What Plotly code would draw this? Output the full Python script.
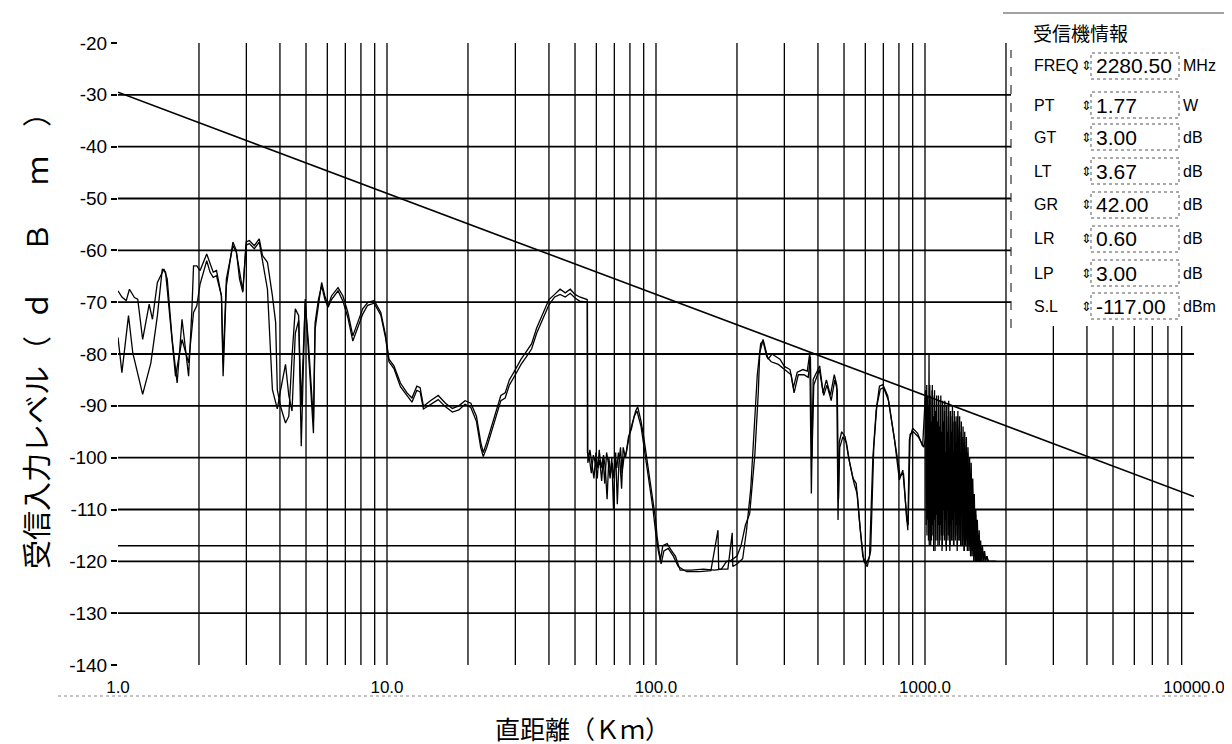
import plotly.graph_objects as go

# ---------------- data ----------------
# measured receive level, receiver A (km, dBm)
trace_a = [
    (1.0, -67.8), (1.034, -69.0), (1.073, -69.7), (1.103, -67.5), (1.151, -69.1), (1.184, -69.4),
    (1.235, -77.2), (1.306, -70.4), (1.343, -73.3), (1.401, -66.2), (1.482, -63.6), (1.524, -65.5),
    (1.590, -77.2), (1.659, -85.6), (1.730, -73.3), (1.830, -84.3), (1.883, -71.3), (1.909, -63.0),
    (1.963, -63.0), (2.019, -63.9), (2.137, -60.7), (2.198, -62.3), (2.259, -64.2), (2.324, -63.9),
    (2.424, -68.8), (2.459, -84.3), (2.529, -66.8), (2.674, -58.4), (2.752, -60.0), (2.830, -65.5),
    (2.911, -68.1), (2.994, -58.4), (3.079, -58.1), (3.212, -59.1), (3.350, -57.8), (3.445, -61.0),
    (3.594, -62.3), (3.750, -68.8), (3.855, -73.9), (3.910, -86.9), (4.020, -90.1), (4.195, -93.3),
    (4.315, -92.0), (4.436, -80.4), (4.562, -71.3), (4.695, -72.6), (4.800, -97.8), (4.965, -69.4),
    (5.105, -79.8), (5.328, -95.3), (5.403, -75.2), (5.559, -70.1), (5.715, -66.2), (5.876, -68.8),
    (6.043, -70.7), (6.218, -68.8), (6.577, -67.2), (6.857, -68.8), (7.155, -72.0), (7.464, -76.5),
    (7.786, -73.9), (8.121, -71.3), (8.472, -70.1), (8.957, -69.7), (9.484, -72.0), (9.886, -76.5),
    (10.17, -81.0), (10.61, -82.3), (11.22, -85.6), (11.87, -87.5), (12.38, -88.5), (12.91, -86.2),
    (13.28, -86.5), (13.66, -90.1),
    (14.5, -89.0), (15.5, -88.0), (16.5, -89.5), (17.5, -90.5), (18.5, -90.0), (19.5, -89.0),
    (20.5, -89.5), (21.5, -92.0), (22.3, -97.0), (22.8, -99.0), (23.5, -97.0), (24.5, -94.0),
    (25.5, -91.0), (26.5, -88.0), (27.5, -87.5), (28.5, -85.0), (30.0, -83.0), (31.5, -81.0),
    (33.0, -79.5), (34.5, -78.0), (36.0, -75.0), (38.0, -72.0), (40.0, -69.5), (42.0, -68.5),
    (44.0, -67.5), (46.0, -68.2), (48.0, -67.5), (50.0, -68.5), (52.0, -69.0), (55.5, -69.5),
    (55.6, -99.0), (56.5, -100.0), (57.5, -103.0), (58.5, -99.5), (59.5, -101.0), (60.5, -104.0),
    (61.5, -98.5), (62.5, -102.0), (63.5, -100.0), (64.5, -105.0), (65.5, -99.0), (66.5, -101.0),
    (67.5, -104.0), (68.5, -100.0), (69.5, -110.0), (70.5, -100.0), (71.5, -102.0), (72.5, -99.0),
    (73.5, -101.0), (74.5, -106.0), (75.5, -98.0), (77.0, -100.0), (78.5, -97.0), (80.0, -95.0),
    (82.0, -93.0), (84.0, -91.0), (85.5, -90.2), (88.0, -93.0), (90.0, -96.0), (92.5, -100.4),
    (95.0, -104.0), (97.0, -108.0), (99.7, -112.0), (101.0, -115.3), (103.8, -119.8), (106.0, -117.0),
    (110.0, -116.6), (114.0, -117.9), (118.0, -119.0), (123.0, -121.7), (135.0, -121.7), (150.0, -121.5),
    (165.0, -121.7), (175.0, -121.5), (183.0, -120.0), (190.0, -119.8), (200.0, -119.0), (207.0, -117.0),
    (215.0, -113.0), (223.0, -110.8), (233.0, -99.5), (240.0, -87.5), (243.0, -79.8), (250.0, -77.2),
    (261.0, -81.0), (270.0, -80.0), (289.0, -81.0), (300.0, -82.4), (315.0, -83.0), (324.0, -86.5),
    (335.0, -83.5), (352.0, -83.0), (365.0, -83.3), (373.0, -79.8), (378.0, -106.9), (384.0, -84.9),
    (406.0, -82.3), (418.0, -87.5), (430.0, -85.0), (445.0, -88.0), (460.0, -84.0), (470.0, -86.0),
    (475.0, -112.0), (480.0, -97.0), (490.0, -95.0), (505.0, -96.0), (520.0, -100.0), (540.0, -104.0),
    (555.0, -105.0), (570.0, -112.0), (587.0, -119.0), (605.0, -120.5), (622.0, -119.0), (640.0, -100.0),
    (658.0, -91.0), (677.0, -86.2), (697.0, -85.9), (727.0, -88.1), (770.0, -96.5), (803.0, -104.3),
    (827.0, -102.4), (851.0, -110.1), (863.0, -114.0), (875.0, -96.5), (900.0, -94.3), (939.0, -95.3),
    (980.0, -97.8),
    (1005, -87), (1010, -113), (1015, -86), (1020, -109), (1025, -90), (1030, -116), (1035, -80),
    (1040, -111), (1045, -88), (1050, -117), (1055, -93), (1060, -106), (1065, -86), (1070, -115),
    (1075, -95), (1080, -112), (1085, -87), (1090, -118), (1095, -91), (1100, -108), (1105, -88),
    (1110, -116), (1115, -97), (1120, -113), (1125, -89), (1130, -117), (1135, -94), (1140, -105),
    (1145, -88), (1150, -115), (1155, -99), (1160, -117), (1165, -90), (1170, -110), (1175, -93),
    (1180, -116), (1185, -89), (1190, -112), (1195, -101), (1200, -118), (1205, -90), (1210, -107),
    (1215, -96), (1220, -115), (1225, -89), (1230, -113), (1235, -98), (1240, -117), (1245, -91),
    (1250, -109), (1255, -95), (1260, -116), (1265, -90), (1270, -112), (1275, -102), (1280, -117),
    (1285, -91), (1290, -110), (1295, -97), (1300, -115), (1305, -92), (1310, -113), (1315, -99),
    (1320, -117), (1325, -91), (1330, -108), (1335, -96), (1340, -116), (1345, -92), (1350, -112),
    (1355, -103), (1360, -117), (1365, -93), (1370, -110), (1375, -98), (1380, -116), (1385, -94),
    (1390, -113), (1395, -101), (1400, -118), (1405, -95), (1410, -111), (1415, -99), (1420, -116),
    (1425, -96), (1430, -114), (1435, -104), (1440, -118), (1445, -98), (1450, -112), (1455, -102),
    (1460, -117), (1465, -100), (1470, -115), (1475, -106), (1480, -119), (1485, -101), (1490, -114),
    (1495, -108), (1500, -118), (1505, -104), (1510, -116), (1515, -110), (1520, -119), (1525, -107),
    (1530, -117), (1535, -112), (1540, -120), (1545, -110), (1550, -118), (1555, -114), (1560, -120),
    (1565, -112), (1570, -119), (1575, -116), (1580, -120), (1590, -114), (1600, -120), (1610, -116),
    (1620, -120), (1635, -117), (1650, -120), (1665, -118), (1680, -120), (1700, -119), (1720, -120),
    (1750, -120), (1800, -120), (1840, -120),
]

# measured receive level, receiver B (km, dBm)
trace_b = [
    (1.0, -76.8), (1.034, -83.6), (1.094, -72.6), (1.135, -79.8), (1.235, -87.8), (1.325, -81.7),
    (1.401, -72.6), (1.461, -63.6), (1.503, -64.2), (1.567, -73.9), (1.636, -84.3), (1.730, -77.2),
    (1.830, -81.7), (1.909, -72.0), (1.963, -70.7), (2.019, -66.5), (2.137, -62.0), (2.198, -64.2),
    (2.259, -65.2), (2.324, -64.9), (2.424, -68.8), (2.459, -81.7), (2.529, -65.5), (2.674, -59.1),
    (2.752, -60.3), (2.911, -67.8), (2.994, -59.0), (3.079, -58.7), (3.212, -59.7), (3.350, -58.4),
    (3.445, -62.0), (3.594, -67.5), (3.750, -86.9), (3.910, -90.6), (4.020, -87.0), (4.195, -82.0),
    (4.315, -88.0), (4.436, -91.0), (4.562, -76.0), (4.695, -73.5), (4.800, -90.0), (4.965, -70.0),
    (5.105, -78.0), (5.328, -93.0), (5.403, -74.0), (5.559, -69.5), (5.715, -66.8), (5.876, -69.5),
    (6.043, -71.0), (6.218, -69.5), (6.577, -67.8), (6.857, -69.8), (7.155, -73.0), (7.464, -77.5),
    (7.786, -74.9), (8.121, -72.3), (8.472, -70.6), (8.957, -70.2), (9.484, -72.5), (9.886, -77.0),
    (10.17, -81.5), (10.61, -82.8), (11.22, -86.3), (11.87, -88.0), (12.38, -89.3), (12.91, -87.0),
    (13.28, -87.3), (13.66, -90.6),
    (14.5, -89.8), (15.5, -88.8), (16.5, -90.2), (17.5, -91.2), (18.5, -90.8), (19.5, -89.7),
    (20.5, -90.3), (21.5, -93.0), (22.3, -98.0), (22.8, -99.8), (23.5, -98.0), (24.5, -95.0),
    (25.5, -92.0), (26.5, -89.0), (27.5, -88.5), (28.5, -86.0), (30.0, -84.0), (31.5, -82.0),
    (33.0, -80.5), (34.5, -79.0), (36.0, -76.0), (38.0, -73.0), (40.0, -70.5), (42.0, -69.0),
    (44.0, -68.5), (46.0, -69.0), (48.0, -68.3), (50.0, -69.2), (52.0, -69.8), (55.6, -70.0),
    (55.8, -101.0), (56.8, -98.5), (57.8, -101.5), (58.8, -104.0), (59.8, -99.0), (60.8, -102.0),
    (61.8, -100.5), (62.8, -104.5), (63.8, -99.5), (64.8, -102.0), (65.8, -108.0), (66.8, -100.0),
    (67.8, -103.0), (68.8, -101.0), (69.8, -104.0), (70.8, -99.0), (71.8, -109.0), (72.8, -101.0),
    (73.8, -98.0), (74.8, -103.0), (76.0, -100.0), (77.5, -99.0), (79.0, -96.0), (81.0, -94.5),
    (83.0, -92.0), (85.0, -91.0), (88.0, -94.0), (90.0, -97.5), (92.5, -101.0), (95.0, -106.0),
    (97.5, -110.0), (100.0, -115.0), (102.0, -118.0), (104.5, -120.5), (107.0, -118.0), (111.0, -117.5),
    (116.0, -119.0), (121.0, -121.0), (130.0, -122.0), (145.0, -122.0), (160.0, -121.8), (170.0, -114.0),
    (171.0, -121.5), (185.0, -121.5), (192.0, -114.5), (193.0, -121.0), (200.0, -120.5), (210.0, -119.5),
    (217.0, -114.0), (225.0, -106.0), (232.0, -95.0), (238.0, -84.0), (245.0, -78.0), (250.0, -77.5),
    (258.0, -80.5), (268.0, -81.5), (285.0, -82.0), (300.0, -83.0), (318.0, -84.0), (326.0, -87.5),
    (338.0, -84.0), (355.0, -84.0), (368.0, -84.5), (375.0, -80.5), (380.0, -100.0), (386.0, -86.0),
    (405.0, -83.0), (420.0, -88.0), (432.0, -86.0), (448.0, -89.0), (462.0, -85.0), (472.0, -87.0),
    (477.0, -108.0), (482.0, -98.0), (495.0, -96.0), (510.0, -97.0), (525.0, -101.0), (545.0, -105.0),
    (560.0, -107.0), (575.0, -114.0), (592.0, -120.0), (610.0, -121.0), (628.0, -118.0), (645.0, -98.0),
    (662.0, -90.0), (682.0, -86.8), (702.0, -86.5), (732.0, -89.0), (775.0, -97.5), (808.0, -103.5),
    (832.0, -103.0), (855.0, -112.0), (866.0, -113.0), (880.0, -95.5), (905.0, -95.0), (945.0, -96.0),
    (990.0, -98.0),
    (1007, -96), (1012, -87), (1017, -115), (1022, -88), (1027, -112), (1032, -91), (1037, -117),
    (1042, -86), (1047, -109), (1052, -94), (1057, -116), (1062, -87), (1067, -113), (1072, -92),
    (1077, -118), (1082, -88), (1087, -106), (1092, -96), (1097, -116), (1102, -89), (1107, -111),
    (1112, -93), (1117, -117), (1122, -88), (1127, -109), (1132, -98), (1137, -116), (1142, -90),
    (1147, -113), (1152, -95), (1157, -118), (1162, -89), (1167, -107), (1172, -97), (1177, -115),
    (1182, -91), (1187, -112), (1192, -99), (1197, -117), (1202, -90), (1207, -110), (1212, -95),
    (1217, -116), (1222, -92), (1227, -108), (1232, -100), (1237, -118), (1242, -91), (1247, -113),
    (1252, -97), (1257, -116), (1262, -92), (1267, -111), (1272, -99), (1277, -117), (1282, -93),
    (1287, -109), (1292, -101), (1297, -116), (1302, -93), (1307, -112), (1312, -97), (1317, -118),
    (1322, -92), (1327, -110), (1332, -100), (1337, -116), (1342, -94), (1347, -113), (1352, -99),
    (1357, -117), (1362, -95), (1367, -111), (1372, -103), (1377, -117), (1382, -96), (1387, -112),
    (1392, -100), (1397, -118), (1402, -97), (1407, -113), (1412, -102), (1417, -117), (1422, -98),
    (1427, -112), (1432, -105), (1437, -118), (1442, -99), (1447, -114), (1452, -104), (1457, -118),
    (1462, -101), (1467, -115), (1472, -107), (1477, -119), (1482, -103), (1487, -116), (1492, -109),
    (1497, -119), (1502, -106), (1507, -117), (1512, -111), (1517, -120), (1522, -109), (1527, -118),
    (1532, -113), (1537, -120), (1542, -111), (1547, -119), (1552, -115), (1557, -120), (1562, -113),
    (1567, -119), (1572, -116), (1577, -120), (1585, -115), (1595, -120), (1605, -117), (1615, -120),
    (1630, -118), (1645, -120), (1660, -118), (1675, -120), (1695, -119), (1715, -120), (1745, -120),
    (1790, -120), (1830, -120),
]

# free-space calculated level (line)
theory_dist = [1.0, 10000.0]
theory_level = [-29.5, -107.5]

# receiver sensitivity (S.L)
sensitivity_level = -117.0

# axis ticks
y_tick_vals = [-20, -30, -40, -50, -60, -70, -80, -90, -100, -110, -120, -130, -140]
y_tick_text = ["-20", "-30", "-40", "-50", "-60", "-70", "-80", "-90", "-100", "-110", "-120", "-130", "-140"]
y_grid_vals = [-30, -40, -50, -60, -70, -80, -90, -100, -110, -120, -130]
x_tick_vals = [1, 10, 100, 1000, 10000]
x_tick_text = ["1.0", "10.0", "100.0", "1000.0", "10000.0"]
x_grid_vals = [2, 3, 4, 5, 6, 7, 8, 9, 10, 20, 30, 40, 50, 60, 70, 80, 90, 100,
               200, 300, 400, 500, 600, 700, 800, 900, 1000,
               2000, 3000, 4000, 5000, 6000, 7000, 8000, 9000]

x_title = "直距離（Ｋｍ）"
y_title_main = "受信入力レベル"
y_title_unit = ["（", "ｄ", "Ｂ", "ｍ", "）"]

# receiver information panel
panel_title = "受信機情報"
param_names = ["FREQ", "PT", "GT", "LT", "GR", "LR", "LP", "S.L"]
param_values = ["2280.50", "1.77", "3.00", "3.67", "42.00", "0.60", "3.00", "-117.00"]
param_units = ["MHz", "W", "dB", "dB", "dB", "dB", "dB", "dBm"]

# ---------------- layout helpers ----------------
W, H = 1232, 744
PL, PR, PT_, PB = 110, 1186, 35, 657
row_y_px = [58, 97, 129, 163, 197, 231, 265, 298]
unit_char_y_px = [343, 298, 230, 163, 105]


def px(x):
    return (x - PL) / (PR - PL)


def py(y):
    return (PB - y) / (PB - PT_)


NUM_FONT = "Liberation Sans, Arial, sans-serif"
CJK_FONT = "Noto Sans CJK JP, sans-serif"

fig = go.Figure()

fig.add_trace(go.Scatter(x=[p[0] for p in trace_b], y=[p[1] for p in trace_b], mode="lines",
                         line=dict(color="black", width=1.3), showlegend=False))
fig.add_trace(go.Scatter(x=[p[0] for p in trace_a], y=[p[1] for p in trace_a], mode="lines",
                         line=dict(color="black", width=1.3), showlegend=False))
fig.add_trace(go.Scatter(x=theory_dist, y=theory_level, mode="lines",
                         line=dict(color="black", width=1.6), showlegend=False))

shapes = []
for gy in y_grid_vals:
    shapes.append(dict(type="line", xref="paper", yref="y", x0=0, x1=1, y0=gy, y1=gy,
                       line=dict(color="black", width=1.8), layer="below"))
shapes.append(dict(type="line", xref="paper", yref="y", x0=0, x1=1,
                   y0=sensitivity_level, y1=sensitivity_level,
                   line=dict(color="black", width=1.6), layer="below"))
for gx in x_grid_vals:
    shapes.append(dict(type="line", xref="x", yref="paper", x0=gx, x1=gx, y0=0, y1=1,
                       line=dict(color="black", width=1.3), layer="below"))

# faint scanned baseline under the x labels
shapes.append(dict(type="line", xref="paper", yref="paper", x0=px(50), x1=px(1200),
                   y0=py(688), y1=py(688), line=dict(color="#888", width=1, dash="dot")))

# info panel
shapes.append(dict(type="rect", xref="paper", yref="paper", x0=px(1003), x1=px(1232),
                   y0=py(318), y1=py(2), fillcolor="white", line=dict(width=0), layer="above"))
shapes.append(dict(type="line", xref="paper", yref="paper", x0=px(995), x1=px(1232),
                   y0=py(5), y1=py(5), line=dict(color="#444", width=1.2), layer="above"))
shapes.append(dict(type="line", xref="paper", yref="paper", x0=px(1003), x1=px(1003),
                   y0=py(320), y1=py(42), line=dict(color="#333", width=1.2, dash="dash"), layer="above"))

annotations = []
annotations.append(dict(xref="paper", yref="paper", x=px(1023), y=py(25), xanchor="left",
                        yanchor="middle", showarrow=False, text=panel_title,
                        font=dict(family=CJK_FONT, size=19, color="black")))
for i, (n, v, u) in enumerate(zip(param_names, param_values, param_units)):
    yy = row_y_px[i]
    shapes.append(dict(type="rect", xref="paper", yref="paper", x0=px(1083), x1=px(1171),
                       y0=py(yy + 13), y1=py(yy - 13),
                       line=dict(color="#555", width=1, dash="dot"), layer="above"))
    annotations.append(dict(xref="paper", yref="paper", x=px(1024), y=py(yy), xanchor="left",
                            yanchor="middle", showarrow=False, text=n,
                            font=dict(family=NUM_FONT, size=16, color="black")))
    annotations.append(dict(xref="paper", yref="paper", x=px(1078), y=py(yy), xanchor="center",
                            yanchor="middle", showarrow=False, text="⇕",
                            font=dict(family="DejaVu Sans", size=13, color="black")))
    annotations.append(dict(xref="paper", yref="paper", x=px(1086), y=py(yy), xanchor="left",
                            yanchor="middle", showarrow=False, text=v,
                            font=dict(family=NUM_FONT, size=21, color="black")))
    annotations.append(dict(xref="paper", yref="paper", x=px(1173), y=py(yy), xanchor="left",
                            yanchor="middle", showarrow=False, text=u,
                            font=dict(family=NUM_FONT, size=16, color="black")))

# axis titles
annotations.append(dict(xref="paper", yref="paper", x=px(574), y=py(720), xanchor="center",
                        yanchor="middle", showarrow=False, text=x_title,
                        font=dict(family=CJK_FONT, size=25, color="black")))
annotations.append(dict(xref="paper", yref="paper", x=px(27), y=py(460), xanchor="center",
                        yanchor="middle", showarrow=False, text=y_title_main, textangle=-90,
                        font=dict(family=CJK_FONT, size=29, color="black")))
for ch, cy in zip(y_title_unit, unit_char_y_px):
    annotations.append(dict(xref="paper", yref="paper", x=px(27), y=py(cy), xanchor="center",
                            yanchor="middle", showarrow=False, text=ch, textangle=-90,
                            font=dict(family=CJK_FONT, size=29, color="black")))

fig.update_layout(
    width=W, height=H,
    margin=dict(l=PL, r=W - PR, t=PT_, b=H - PB),
    paper_bgcolor="white", plot_bgcolor="white",
    shapes=shapes, annotations=annotations,
    xaxis=dict(type="log", range=[0, 4], tickvals=x_tick_vals, ticktext=x_tick_text,
               showgrid=False, zeroline=False, showline=False, ticks="",
               ticklabelstandoff=10,
               tickfont=dict(family=NUM_FONT, size=17, color="black")),
    yaxis=dict(range=[-140, -20], tickvals=y_tick_vals, ticktext=y_tick_text,
               showgrid=False, zeroline=False, showline=False,
               ticks="outside", ticklen=6, tickwidth=1.5, tickcolor="black",
               tickfont=dict(family=NUM_FONT, size=19, color="black")),
)

fig.write_html("out.html")
